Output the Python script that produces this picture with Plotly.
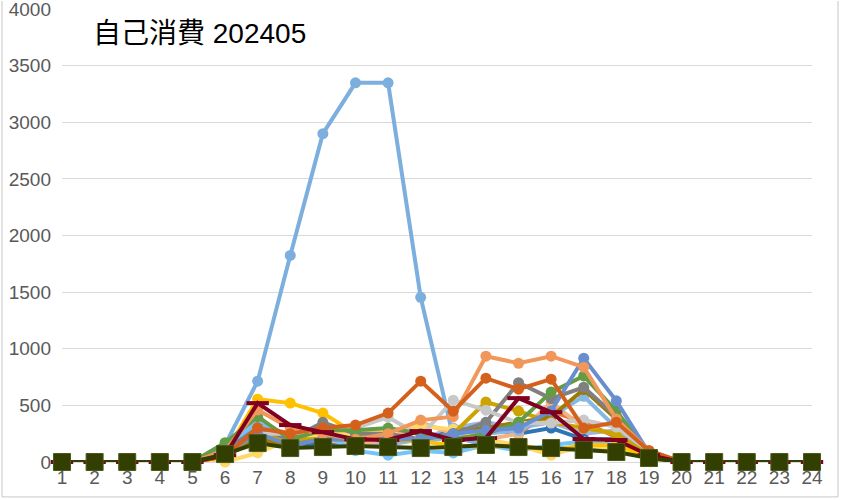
import plotly.graph_objects as go

hours = list(range(1, 25))

# 1時間ごとの自己消費量 (2024年5月, 日別)
sky_big = [0, 0, 0, 0, 0, 150, 714, 1824, 2899, 3348, 3348, 1454, 220, 150, 130, 120, 130, 100, 40, 0, 0, 0, 0, 0]
lavender = [0, 0, 0, 0, 0, 80, 250, 200, 150, 150, 150, 200, 300, 350, 300, 350, 250, 280, 60, 0, 0, 0, 0, 0]
blue2 = [0, 0, 0, 0, 0, 60, 200, 150, 150, 200, 200, 180, 280, 300, 250, 300, 200, 200, 50, 0, 0, 0, 0, 0]
orange2 = [0, 0, 0, 0, 0, 100, 320, 250, 200, 220, 250, 200, 250, 300, 250, 450, 350, 220, 50, 0, 0, 0, 0, 0]
peach2 = [0, 0, 0, 0, 0, 80, 350, 200, 200, 150, 200, 350, 250, 200, 250, 528, 300, 250, 80, 0, 0, 0, 0, 0]
sky2 = [0, 0, 0, 0, 0, 100, 350, 180, 200, 200, 200, 180, 220, 250, 280, 400, 580, 300, 60, 0, 0, 0, 0, 0]
cyan = [0, 0, 0, 0, 0, 50, 420, 110, 250, 100, 60, 100, 80, 150, 100, 150, 180, 150, 30, 0, 0, 0, 0, 0]
lyellow = [0, 0, 0, 0, 0, 0, 80, 200, 250, 250, 273, 317, 290, 200, 150, 60, 150, 120, 30, 0, 0, 0, 0, 0]
yellow = [0, 0, 0, 0, 0, 80, 555, 520, 432, 250, 200, 180, 150, 130, 150, 100, 150, 150, 50, 0, 0, 0, 0, 0]
mustard = [0, 0, 0, 0, 0, 50, 250, 200, 200, 200, 220, 200, 250, 529, 450, 350, 300, 250, 60, 0, 0, 0, 0, 0]
darkgold = [0, 0, 0, 0, 0, 50, 200, 150, 200, 200, 200, 200, 250, 300, 350, 400, 640, 380, 80, 0, 0, 0, 0, 0]
grey = [0, 0, 0, 0, 0, 100, 300, 200, 350, 250, 250, 200, 250, 350, 700, 560, 660, 400, 100, 0, 0, 0, 0, 0]
lgrey = [0, 0, 0, 0, 0, 80, 250, 250, 280, 300, 396, 229, 546, 458, 344, 344, 370, 308, 100, 0, 0, 0, 0, 0]
green = [0, 0, 0, 0, 0, 170, 400, 200, 280, 280, 300, 250, 200, 250, 350, 617, 760, 450, 80, 0, 0, 0, 0, 0]
blue = [0, 0, 0, 0, 0, 80, 250, 150, 200, 200, 200, 200, 250, 280, 300, 450, 916, 540, 80, 0, 0, 0, 0, 0]
peach = [0, 0, 0, 0, 0, 100, 460, 300, 250, 200, 250, 370, 400, 934, 872, 934, 837, 380, 100, 0, 0, 0, 0, 0]
orange = [0, 0, 0, 0, 0, 50, 300, 250, 300, 326, 432, 714, 449, 740, 643, 731, 300, 350, 100, 0, 0, 0, 0, 0]
maroon = [0, 0, 0, 0, 0, 60, 520, 326, 264, 200, 194, 273, 194, 211, 564, 440, 203, 194, 60, 0, 0, 0, 0, 0]
olive = [0, 0, 0, 0, 0, 70, 167, 123, 132, 141, 132, 123, 132, 150, 132, 123, 106, 88, 35, 0, 0, 0, 0, 0]

series = [
    ('sky_big', sky_big, '#7CAFDD'),
    ('lavender', lavender, '#9DB5E2'),
    ('blue2', blue2, '#2E75B6'),
    ('orange2', orange2, '#E2772B'),
    ('peach2', peach2, '#F4B183'),
    ('sky2', sky2, '#86B8E6'),
    ('cyan', cyan, '#74C4F7'),
    ('lyellow', lyellow, '#FFD966'),
    ('yellow', yellow, '#FFC000'),
    ('mustard', mustard, '#CCA300'),
    ('darkgold', darkgold, '#9E7A00'),
    ('grey', grey, '#808080'),
    ('lgrey', lgrey, '#C8C8C8'),
    ('green', green, '#629C44'),
    ('blue', blue, '#698ED0'),
    ('peach', peach, '#F1975A'),
    ('orange', orange, '#D5601B'),
]

fig = go.Figure()

for name, vals, col in series:
    fig.add_trace(go.Scatter(
        x=hours, y=vals, name=name, mode='lines+markers',
        line=dict(color=col, width=4),
        marker=dict(symbol='circle', size=11, color=col),
        cliponaxis=False
    ))

# 線マーカー
fig.add_trace(go.Scatter(
    x=hours, y=maroon, name='maroon', mode='lines+markers',
    line=dict(color='#7F0020', width=4),
    marker=dict(symbol='line-ew', size=16, color='#7F0020',
                line=dict(color='#7F0020', width=4)),
    cliponaxis=False
))

# 四角マーカー
fig.add_trace(go.Scatter(
    x=hours, y=olive, name='olive', mode='lines+markers',
    line=dict(color='#333F00', width=4),
    marker=dict(symbol='square', size=17, color='#333F00',
                line=dict(color='#4A5A1A', width=1)),
    cliponaxis=False
))

# chart border
for x0, y0, x1, y1 in [(-0.08, -0.0771, 1.0347, -0.0771),
                       (1.0347, -0.0771, 1.0347, 1.0176),
                       (-0.08, -0.0771, -0.08, 1.0176)]:
    fig.add_shape(type='line', xref='paper', yref='paper',
                  x0=x0, y0=y0, x1=x1, y1=y1,
                  line=dict(color='#C8C8C8', width=1))

fig.add_annotation(
    text='自己消費 202405', xref='paper', yref='paper',
    x=0.038, y=0.945, xanchor='left', yanchor='middle', showarrow=False,
    font=dict(size=28, color='#000000', family='Liberation Sans, Noto Sans CJK JP')
)

fig.update_layout(
    width=841, height=500,
    margin=dict(l=62, r=29, t=9, b=38),
    paper_bgcolor='white', plot_bgcolor='white',
    showlegend=False,
    font=dict(family='Liberation Sans, Arial, sans-serif', size=19, color='#595959'),
    xaxis=dict(
        range=[1, 24], tickmode='array', tickvals=hours,
        showgrid=False, zeroline=False, showline=False, ticks='',
        ticklabelstandoff=2, automargin=False
    ),
    yaxis=dict(
        range=[0, 4000], tickmode='array', tickvals=list(range(0, 4001, 500)),
        showgrid=True, gridcolor='#D9D9D9', gridwidth=1,
        zeroline=True, zerolinecolor='#D9D9D9', zerolinewidth=1,
        showline=False, ticks='', ticklabelstandoff=10, automargin=False,
        ticklabeloverflow='allow'
    )
)

# ページ余白なし
fig.write_html("out.html", config={'displayModeBar': False},
               post_script="document.body.style.margin='0';")
